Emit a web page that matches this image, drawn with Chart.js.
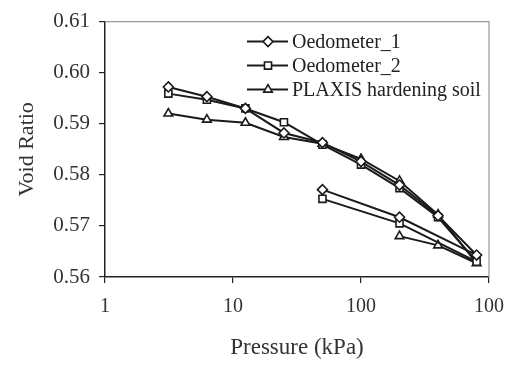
<!DOCTYPE html>
<html>
<head>
<meta charset="utf-8">
<script src="https://cdn.jsdelivr.net/npm/chart.js@4/dist/chart.umd.min.js"></script>
<style>
  html, body { margin: 0; padding: 0; background: #fff; }
  #wrap { width: 516px; height: 365px; }
</style>
</head>
<body>
<div id="wrap"><canvas id="chart" width="516" height="365"></canvas></div>
<script>
// pressure steps (kPa) and void ratios
const oedo1X = [3.125, 6.25, 12.5, 25, 50, 100, 200, 400, 800, 200, 50];
const oedo1Y = [0.5972, 0.5953, 0.5930, 0.5882, 0.5863, 0.5826, 0.5780, 0.5720, 0.5643, 0.5717, 0.5771];

const oedo2X = [3.125, 6.25, 12.5, 25, 50, 100, 200, 400, 800, 200, 50];
const oedo2Y = [0.5959, 0.5947, 0.5930, 0.5903, 0.5859, 0.5820, 0.5774, 0.5717, 0.5630, 0.5705, 0.5753];

const plaxisX = [3.125, 6.25, 12.5, 25, 50, 100, 200, 400, 800, 400, 200];
const plaxisY = [0.5920, 0.5908, 0.5902, 0.5874, 0.5861, 0.5831, 0.5788, 0.5722, 0.5627, 0.5662, 0.5680];

const seriesNames = ["Oedometer_1", "Oedometer_2", "PLAXIS hardening soil"];
const xTicks = [1, 10, 100, 1000];
const xTickLabels = ["1", "10", "100", "100"];
const yTicks = [0.56, 0.57, 0.58, 0.59, 0.60, 0.61];

const serif = "'Liberation Serif', 'Times New Roman', serif";

function pts(xs, ys) {
  return xs.map((x, i) => ({ x: x, y: ys[i] }));
}

function makeSet(label, data, style) {
  return {
    label: label,
    data: data,
    showLine: true,
    borderColor: "#1a1a1a",
    borderWidth: 2,
    pointStyle: style,
    pointRadius: style === "triangle" ? 5 : 5,
    pointBackgroundColor: "#fff",
    pointBorderColor: "#1a1a1a",
    pointBorderWidth: 1.6,
    tension: 0
  };
}

// gray frame on top/right like the original
const framePlugin = {
  id: "frame",
  beforeDatasetsDraw(chart) {
    const a = chart.chartArea, c = chart.ctx;
    c.save();
    c.strokeStyle = "#999";
    c.lineWidth = 1.2;
    c.beginPath();
    c.moveTo(a.left, a.top);
    c.lineTo(a.right, a.top);
    c.lineTo(a.right, a.bottom);
    c.stroke();
    c.restore();
  }
};

// legend inside the plot, line + marker + label
const legendPlugin = {
  id: "innerLegend",
  afterDraw(chart) {
    const a = chart.chartArea, c = chart.ctx;
    c.save();
    c.font = "20px " + serif;
    c.textBaseline = "middle";
    chart.data.datasets.forEach((ds, i) => {
      const y = a.top + 20 + i * 24;
      const x0 = a.left + 142;
      c.strokeStyle = "#1a1a1a";
      c.lineWidth = 2;
      c.beginPath();
      c.moveTo(x0, y);
      c.lineTo(x0 + 41, y);
      c.stroke();
      c.fillStyle = "#fff";
      c.lineWidth = 1.6;
      Chart.helpers.drawPoint(c, { pointStyle: ds.pointStyle, radius: ds.pointRadius, rotation: 0, borderWidth: 1.6 }, x0 + 21, y);
      c.fillStyle = "#222";
      c.fillText(ds.label, x0 + 45, y + 1);
    });
    c.restore();
  }
};

new Chart(document.getElementById("chart"), {
  type: "scatter",
  data: {
    datasets: [
      makeSet(seriesNames[0], pts(oedo1X, oedo1Y), "rectRot"),
      makeSet(seriesNames[1], pts(oedo2X, oedo2Y), "rect"),
      makeSet(seriesNames[2], pts(plaxisX, plaxisY), "triangle")
    ]
  },
  options: {
    responsive: false,
    animation: false,
    layout: { padding: { top: 19, right: 18, bottom: 0, left: 0 } },
    plugins: { legend: { display: false }, tooltip: { enabled: false } },
    scales: {
      x: {
        type: "logarithmic",
        min: 1,
        max: 1000,
        afterBuildTicks(s) { s.ticks = xTicks.map(v => ({ value: v })); },
        afterFit(s) { s.height = 88; },
        ticks: {
          color: "#333",
          font: { family: serif, size: 20 },
          padding: 12,
          maxRotation: 0,
          autoSkip: false,
          callback(v) { const i = xTicks.indexOf(v); return i >= 0 ? xTickLabels[i] : ""; }
        },
        grid: { drawOnChartArea: false, drawTicks: true, tickLength: 6, color: "#222", lineWidth: 1.2 },
        border: { color: "#222", width: 1.5 },
        title: {
          display: true,
          text: "Pressure (kPa)",
          color: "#333",
          font: { family: serif, size: 23, lineHeight: 1 },
          padding: { top: 0, bottom: 6 }
        }
      },
      y: {
        min: 0.56,
        max: 0.61,
        afterBuildTicks(s) { s.ticks = yTicks.map(v => ({ value: v })); },
        afterFit(s) { s.width = 105; },
        ticks: {
          color: "#333",
          font: { family: serif, size: 21 },
          padding: 9,
          callback(v) { return v.toFixed(2); }
        },
        grid: { drawOnChartArea: false, drawTicks: true, tickLength: 6, color: "#222", lineWidth: 1.2 },
        border: { color: "#222", width: 1.5 },
        title: {
          display: true,
          text: "Void Ratio",
          color: "#333",
          font: { family: serif, size: 22, lineHeight: 1 },
          padding: { top: 16, bottom: 0 }
        }
      }
    }
  },
  plugins: [framePlugin, legendPlugin]
});
</script>
</body>
</html>
